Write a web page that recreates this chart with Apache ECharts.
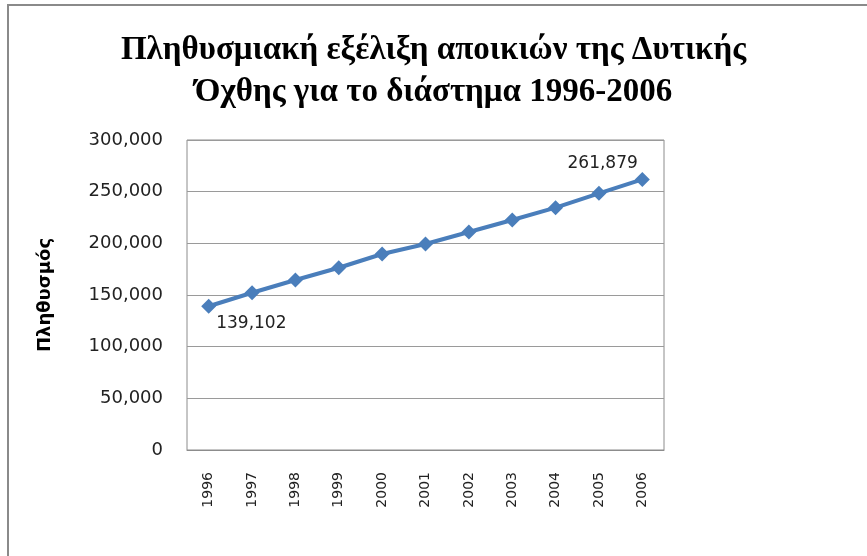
<!DOCTYPE html>
<html>
<head>
<meta charset="utf-8">
<script src="https://cdn.jsdelivr.net/npm/echarts@6/dist/echarts.min.js"></script>
<style>
  html, body { margin: 0; padding: 0; background: #fff; }
  #chart { width: 867px; height: 556px; }
</style>
</head>
<body>
<div id="chart"></div>
<script>
// data
const years = ['1996', '1997', '1998', '1999', '2000', '2001', '2002', '2003', '2004', '2005', '2006'];
const population = [139102, 152200, 164500, 176400, 189700, 199400, 211000, 222600, 234500, 248400, 261879];
const titleLines = ['Πληθυσμιακή εξέλιξη αποικιών της Δυτικής', 'Όχθης για το διάστημα 1996-2006'];
const yName = 'Πληθυσμός';

// 139102 -> "139,102"
const withCommas = v => String(v).replace(/\B(?=(\d{3})+(?!\d))/g, ',');

const myChart = echarts.init(document.getElementById('chart'));

const lastIdx = population.length - 1;
const seriesData = population.map((v, i) => {
  if (i === 0) {
    return { value: v, label: { show: true, position: 'right', distance: 0, offset: [0, 17] } };
  }
  if (i === lastIdx) {
    return { value: v, label: { show: true, position: 'left', distance: 0, offset: [3, -16] } };
  }
  return v;
});

const option = {
  animation: false,
  backgroundColor: '#fff',
  title: {
    text: titleLines.join('\n'),
    left: 'center',
    top: 24,
    textStyle: {
      fontFamily: 'Liberation Serif',
      fontWeight: 'bold',
      fontSize: 33,
      lineHeight: 42,
      color: '#000'
    }
  },
  graphic: [{
    type: 'rect',
    shape: { x: 8, y: 5, width: 900, height: 600 },
    style: { fill: 'none', stroke: '#8a8a8a', lineWidth: 2 },
    silent: true
  }],
  grid: {
    left: 187,
    top: 140,
    width: 477,
    height: 310,
    show: true,
    borderColor: '#8c8c8c',
    borderWidth: 1
  },
  xAxis: {
    type: 'category',
    data: years,
    boundaryGap: true,
    axisLine: { show: true, lineStyle: { color: '#8c8c8c' } },
    axisTick: { show: false },
    axisLabel: {
      rotate: 90,
      margin: 22,
      fontFamily: 'DejaVu Sans',
      fontSize: 14,
      color: '#222'
    }
  },
  yAxis: {
    type: 'value',
    min: 0,
    max: 300000,
    interval: 50000,
    name: yName,
    nameLocation: 'middle',
    nameGap: 133,
    nameTextStyle: {
      fontFamily: 'DejaVu Sans',
      fontWeight: 'bold',
      fontSize: 18,
      color: '#000'
    },
    axisLine: { show: false },
    axisTick: { show: false },
    splitLine: { lineStyle: { color: '#9a9a9a', width: 1 } },
    axisLabel: {
      margin: 24,
      fontFamily: 'DejaVu Sans',
      fontSize: 18,
      color: '#222',
      formatter: withCommas
    }
  },
  series: [{
    type: 'line',
    data: seriesData,
    symbol: 'diamond',
    symbolSize: 15,
    lineStyle: { color: '#4a7ebb', width: 4 },
    itemStyle: { color: '#4a7ebb' },
    label: {
      show: false,
      fontFamily: 'DejaVu Sans',
      fontSize: 17,
      color: '#222',
      formatter: p => withCommas(p.value)
    }
  }]
};

myChart.setOption(option);
window.addEventListener('resize', () => myChart.resize());
</script>
</body>
</html>
